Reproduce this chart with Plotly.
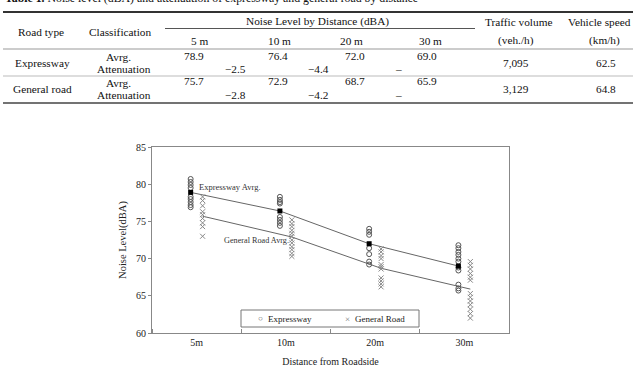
import plotly.graph_objects as go

# ---------------- data ----------------
distances = ["5m", "10m", "20m", "30m"]

exp_5m = [80.7, 80.3, 79.9, 79.5, 78.3, 78.0, 77.6, 77.2, 76.9]
exp_10m = [78.3, 77.9, 77.6, 77.4, 75.6, 75.2, 74.8, 74.4]
exp_20m = [74.0, 73.6, 73.2, 71.4, 70.6, 69.6, 69.2]
exp_30m = [71.8, 71.4, 70.9, 70.5, 70.0, 69.6, 68.8, 68.4, 66.5, 66.0, 65.7]

gen_5m = [78.3, 77.8, 77.1, 76.3, 75.9, 75.4, 74.8, 74.3, 73.0]
gen_10m = [75.2, 74.7, 74.3, 73.8, 73.4, 73.0, 72.5, 72.1, 71.6, 71.2, 70.7, 70.3]
gen_20m = [71.3, 70.9, 70.4, 70.0, 69.2, 68.9, 68.6, 67.4, 67.0, 66.6, 66.2]
gen_30m = [69.6, 69.1, 68.6, 68.0, 67.5, 67.1, 65.3, 64.8, 64.3, 63.8, 63.2, 62.6, 62.0]

exp_avg = [78.9, 76.4, 72.0, 69.0]
gen_avg = [75.7, 72.9, 68.7, 65.9]
exp_att = ["\u22122.5", "\u22124.4", "\u2013"]
gen_att = ["\u22122.8", "\u22124.2", "\u2013"]
traffic = ["7,095", "3,129"]
speed = ["62.5", "64.8"]
dist_headers = ["5 m", "10 m", "20 m", "30 m"]
table_title = "<b>Table 1.</b> Noise level (dBA) and attenuation of expressway and general road by distance"

# ---------------- layout helpers ----------------
W, H = 636, 371
L, R, T, B = 152, 509, 147, 333
FONT = "Liberation Serif, Times New Roman, serif"
TS = 11.3


def px(x):
    return (x - L) / (R - L)


def py(y):
    return (B - y) / (B - T)


OFF = 0.067
exp_groups = [exp_5m, exp_10m, exp_20m, exp_30m]
gen_groups = [gen_5m, gen_10m, gen_20m, gen_30m]

ex_x, ex_y, ge_x, ge_y = [], [], [], []
for i, g in enumerate(exp_groups):
    ex_x += [i - OFF] * len(g)
    ex_y += g
for i, g in enumerate(gen_groups):
    ge_x += [i + OFF] * len(g)
    ge_y += g

fig = go.Figure()
fig.add_trace(go.Scatter(
    x=[i - OFF for i in range(4)], y=exp_avg, mode="lines",
    line=dict(color="#666", width=1), showlegend=False, hoverinfo="skip"))
fig.add_trace(go.Scatter(
    x=[i + OFF for i in range(4)], y=gen_avg, mode="lines",
    line=dict(color="#666", width=1), showlegend=False, hoverinfo="skip"))
fig.add_trace(go.Scatter(
    x=ex_x, y=ex_y, mode="markers", name="Expressway", showlegend=False,
    marker=dict(symbol="circle-open", size=5, color="#555", line=dict(width=1))))
fig.add_trace(go.Scatter(
    x=ge_x, y=ge_y, mode="markers", name="General Road", showlegend=False,
    marker=dict(symbol="x-thin-open", size=5, color="#888", line=dict(width=1))))
fig.add_trace(go.Scatter(
    x=[i - OFF for i in range(4)], y=exp_avg, mode="markers",
    marker=dict(symbol="square", size=5, color="#000"), showlegend=False))

ann = []
shapes = []


def text(x, y, s, size=TS, xanchor="center", yanchor="middle", color="#111"):
    ann.append(dict(x=px(x), y=py(y), xref="paper", yref="paper", text=s,
                    showarrow=False, xanchor=xanchor, yanchor=yanchor,
                    font=dict(family=FONT, size=size, color=color)))


def hline(y, x0=3, x1=633, w=1, c="#555"):
    shapes.append(dict(type="line", xref="paper", yref="paper",
                       x0=px(x0), x1=px(x1), y0=py(y), y1=py(y),
                       line=dict(color=c, width=w)))


# ---------------- table ----------------
text(3, -2, table_title, size=11.8, xanchor="left")
hline(12, w=2, c="#333")
text(317, 22, "Noise Level by Distance (dBA)")
hline(28.5, 165, 475, w=1, c="#555")
text(41, 31.5, "Road type")
text(120, 31.5, "Classification")
for xc, d in zip([199, 279, 351, 430], dist_headers):
    text(xc, 41, d)
text(518, 22, "Traffic volume")
text(516, 40, "(veh./h)")
text(599, 22, "Vehicle speed")
text(604, 40, "(km/h)")
hline(49, c="#999")
val_x = [194, 278, 355, 427]
att_x = [235, 318, 398]
for r, (name, avg, att, tv, sp) in enumerate(zip(["Expressway", "General road"],
                                                  [exp_avg, gen_avg], [exp_att, gen_att],
                                                  traffic, speed)):
    y0 = 57 + r * 25.5
    text(118, y0, "Avrg.")
    for xv, v in zip(val_x, avg):
        text(xv, y0 - 1.5, f"{v:.1f}")
    text(124, y0 + 12.5, "Attenuation")
    for xv, v in zip(att_x, att):
        text(xv, y0 + 12.5, v)
    text(42, y0 + 6, name)
    text(516, y0 + 6, tv)
    text(606, y0 + 6, sp)
hline(76, c="#bbb")
hline(103, w=1.5, c="#444")

# ---------------- chart annotations ----------------
ann.append(dict(x=0.0, y=79.6, xref="x", yref="y", text="Expressway Avrg.", showarrow=False,
                xanchor="left", yanchor="middle", font=dict(family=FONT, size=8.5, color="#333")))
ann.append(dict(x=0.28, y=72.5, xref="x", yref="y", text="General Road Avrg.", showarrow=False,
                xanchor="left", yanchor="middle", font=dict(family=FONT, size=8.2, color="#333")))

# legend box (drawn as shape + text)
shapes.append(dict(type="rect", xref="paper", yref="paper", x0=px(241), x1=px(419),
                   y0=py(327), y1=py(310), line=dict(color="#777", width=1),
                   fillcolor="white", layer="above"))
text(260, 318.5, "\u25cb", size=8, color="#555")
text(266, 318.5, "Expressway", size=9, xanchor="left", color="#222")
text(347, 318.5, "\u00d7", size=9, color="#777")
text(353, 318.5, "General Road", size=9, xanchor="left", color="#222")

fig.update_layout(
    width=W, height=H,
    margin=dict(l=L, r=W - R, t=T, b=H - B, autoexpand=False),
    paper_bgcolor="white", plot_bgcolor="white",
    font=dict(family=FONT, size=10, color="#222"),
    annotations=ann, shapes=shapes, showlegend=False,
    xaxis=dict(range=[-0.5, 3.5], tickmode="array", tickvals=list(range(4)), ticktext=distances,
               ticks="", showline=True, linecolor="#888", mirror=True, showgrid=False,
               zeroline=False, automargin=False, tickfont=dict(family=FONT, size=10),
               minor=dict(ticks="inside", ticklen=4, tickcolor="#888", tickmode="array",
                          tickvals=[-0.5, 0.5, 1.5, 2.5, 3.5]),
               title=dict(text="Distance from Roadside", standoff=10,
                          font=dict(family=FONT, size=10))),
    yaxis=dict(range=[60, 85], dtick=5, ticks="outside", ticklen=3, tickcolor="#888",
               showline=True, linecolor="#888", mirror=True, showgrid=False, zeroline=False,
               automargin=False, tickfont=dict(family=FONT, size=10),
               title=dict(text="Noise Level(dBA)", standoff=7,
                          font=dict(family=FONT, size=10.5))),
)

fig.write_html("out.html")
